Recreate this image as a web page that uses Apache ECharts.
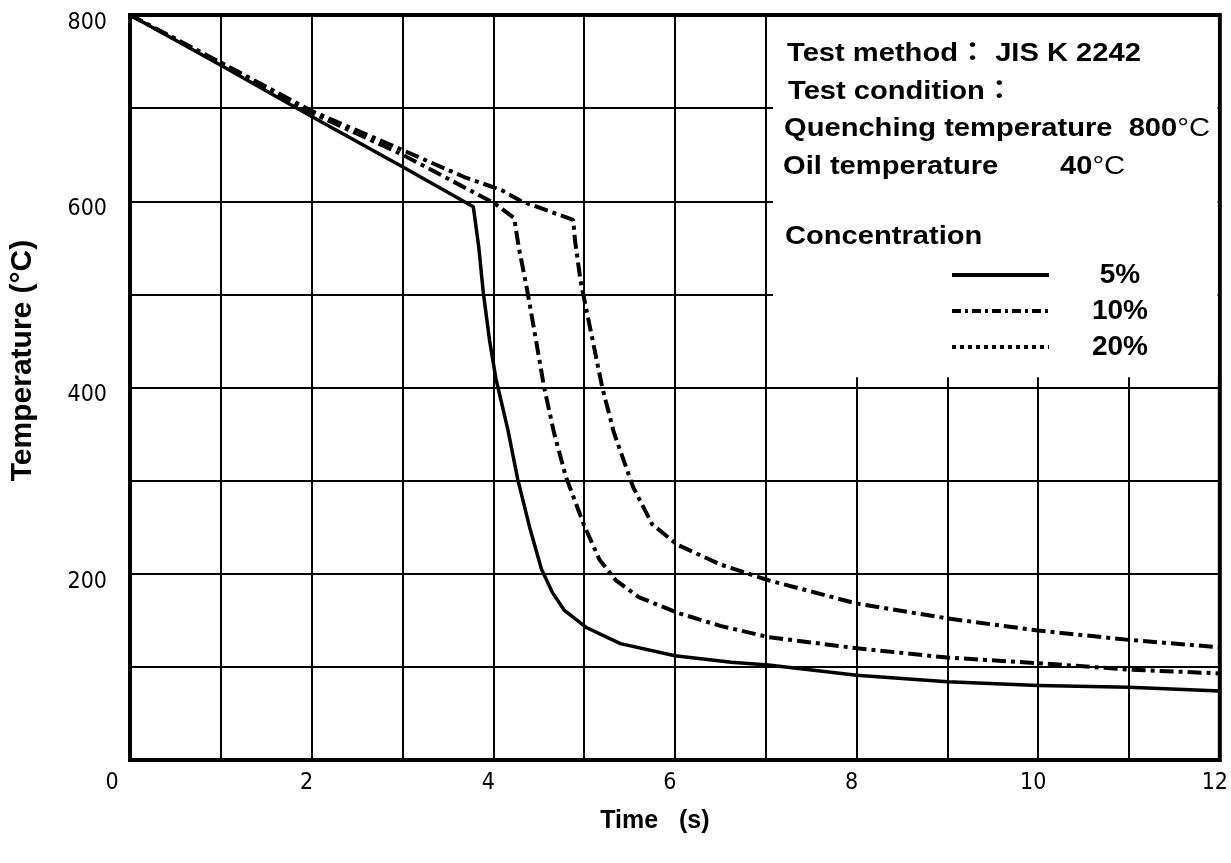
<!DOCTYPE html>
<html><head><meta charset="utf-8">
<script src="https://cdn.jsdelivr.net/npm/echarts@6/dist/echarts.min.js"></script>
<style>html,body{margin:0;padding:0;background:#fff}#c{width:1231px;height:863px}</style>
</head><body><div id="c"></div>
<script>
// Time (s) and temperature (°C) for each concentration
const time5  = [0, 1, 2, 3, 3.78, 3.84, 3.89, 3.96, 4.03, 4.16, 4.27, 4.4, 4.53, 4.65, 4.78, 5.03, 5.4, 6.0, 6.62, 7.03, 8, 9, 10, 11, 12];
const temp5  = [800, 746, 691, 637, 594, 551, 502, 450, 409, 355, 301, 250, 205, 180, 161, 142, 125, 112, 105, 102, 91, 84, 80, 78, 74];
const time10 = [0, 1, 2, 3, 4.01, 4.23, 4.28, 4.38, 4.47, 4.56, 4.67, 4.8, 5.0, 5.17, 5.35, 5.6, 6.03, 6.5, 7.03, 8, 9, 10, 11, 12];
const temp10 = [800, 748, 695, 650, 598, 582, 551, 501, 451, 400, 351, 304, 252, 215, 193, 175, 158, 144, 132, 120, 110, 104, 97, 93];
const time20 = [0, 1, 2, 3, 3.68, 4.09, 4.31, 4.88, 4.9, 4.96, 5.02, 5.11, 5.2, 5.33, 5.54, 5.75, 6.03, 6.5, 7.03, 8, 9, 10, 11, 12];
const temp20 = [800, 749, 697, 655, 626, 612, 600, 580, 558, 515, 486, 443, 400, 351, 293, 253, 231, 210, 193, 168, 152, 139, 129, 121];
const seriesNames = ['5%', '10%', '20%'];
const xTickLabels = [0, 2, 4, 6, 8, 10, 12];
const yTickLabels = [200, 400, 600, 800];

const zip = (a, b) => a.map((v, i) => [v, b[i]]);
const tickFont = "'Liberation Sans Narrow','DejaVu Sans Condensed','Liberation Sans',sans-serif";
const boldFont = "'Liberation Sans',Arial,'Noto Sans CJK JP',sans-serif";
const chart = echarts.init(document.getElementById('c'));

const dashDot = [14, 5, 4, 5];
const boxFont = 'bold 26px ' + boldFont;
const boxText = (x, y, text) => ({type: 'text', x: x, y: y, z: 100, scaleX: 1.12,
  style: {text: text, font: boxFont, fill: '#000', verticalAlign: 'middle', textVerticalAlign: 'middle'}});
const boxRich = (x, y, text) => ({type: 'text', x: x, y: y, z: 100, scaleX: 1.12,
  style: {text: text, verticalAlign: 'middle', textVerticalAlign: 'middle',
    rich: {b: {font: boxFont, fill: '#000'}, r: {font: '26px ' + boldFont, fill: '#000'}}}});

const option = {
  animation: false,
  backgroundColor: '#fff',
  grid: {left: 128, right: 9, top: 15, bottom: 103, show: true, borderColor: '#000', borderWidth: 4},
  xAxis: {
    type: 'value', min: 0, max: 12, interval: 1,
    axisLine: {show: false}, axisTick: {show: false},
    splitLine: {show: true, lineStyle: {color: '#000', width: 2}},
    axisLabel: {
      margin: 12, color: '#000', fontFamily: tickFont, fontSize: 23,
      formatter: v => xTickLabels.indexOf(v) < 0 ? '' : (v === 0 ? '{z|0}' : '{n|' + v + '}'),
      rich: {
        z: {padding: [0, 36, 0, 0], fontFamily: tickFont, fontSize: 23, color: '#000'},
        n: {padding: [0, 10, 0, 0], fontFamily: tickFont, fontSize: 23, color: '#000'}
      }
    },
    name: 'Time   (s)', nameLocation: 'middle', nameGap: 49,
    nameTextStyle: {fontFamily: boldFont, fontWeight: 'bold', fontSize: 25, color: '#000', padding: [0, 40, 0, 0]}
  },
  yAxis: {
    type: 'value', min: 0, max: 800, interval: 100,
    axisLine: {show: false}, axisTick: {show: false},
    splitLine: {show: true, lineStyle: {color: '#000', width: 2}},
    axisLabel: {
      margin: 23, color: '#000', fontFamily: tickFont, fontSize: 23, verticalAlign: 'top', lineHeight: 16,
      formatter: v => yTickLabels.indexOf(v) < 0 ? '' : String(v)
    },
    name: 'Temperature (°C)', nameLocation: 'middle', nameGap: 92,
    nameTextStyle: {fontFamily: boldFont, fontWeight: 'bold', fontSize: 30, color: '#000', padding: [0, 0, 0, 54]}
  },
  legend: {
    left: 945, top: 255, orient: 'vertical', itemWidth: 97, itemHeight: 14, itemGap: 6,
    selectedMode: false,
    itemStyle: {opacity: 0, borderWidth: 0},
    textStyle: {
      color: '#000', fontFamily: boldFont, fontWeight: 'bold', fontSize: 28, lineHeight: 30,
      rich: {a: {width: 132, align: 'center', color: '#000', fontFamily: boldFont, fontWeight: 'bold', fontSize: 28}}
    },
    formatter: n => '{a|' + n + '}',
    data: [
      {name: seriesNames[0], lineStyle: {width: 4, type: 'solid'}},
      {name: seriesNames[1], lineStyle: {width: 4, type: [9, 4, 3, 4]}},
      {name: seriesNames[2], lineStyle: {width: 4, type: [4, 4]}}
    ]
  },
  graphic: [
    boxText(787, 54, 'Test method： JIS K 2242'),
    boxText(788, 92, 'Test condition：'),
    boxRich(784, 129, '{b|Quenching temperature  800}{r|°C}'),
    boxText(783, 167, 'Oil temperature'),
    boxRich(1060, 167, '{b|40}{r|°C}'),
    boxText(785, 237, 'Concentration')
  ],
  series: [
    {
      name: seriesNames[0], type: 'line', data: zip(time5, temp5), symbol: 'none',
      lineStyle: {color: '#000', width: 3.5, type: 'solid', join: 'round'}, itemStyle: {color: '#000'},
      markArea: {silent: true, itemStyle: {color: '#fff', opacity: 1}, data: [[{xAxis: 7.08, yAxis: 411}, {xAxis: 11.975, yAxis: 797.8}]]}
    },
    {
      name: seriesNames[1], type: 'line', data: zip(time10, temp10), symbol: 'none',
      lineStyle: {color: '#000', width: 4, type: dashDot}, itemStyle: {color: '#000'}
    },
    {
      name: seriesNames[2], type: 'line', data: zip(time20, temp20), symbol: 'none',
      lineStyle: {color: '#000', width: 4, type: dashDot}, itemStyle: {color: '#000'}
    }
  ]
};
chart.setOption(option);
</script>
</body></html>
